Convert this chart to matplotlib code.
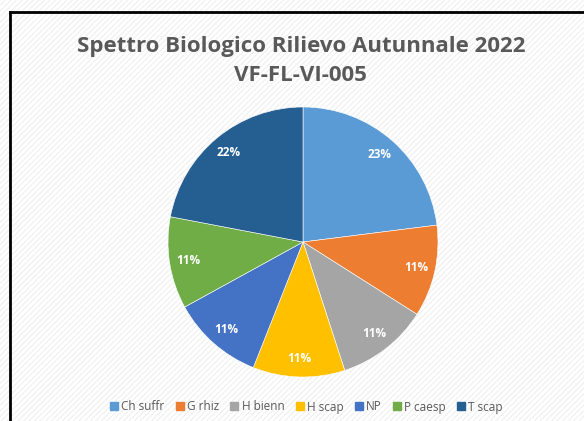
import matplotlib.pyplot as plt
from matplotlib.patches import Rectangle
from matplotlib.lines import Line2D

# biological spectrum, autumn survey
categories = ["Ch suffr", "G rhiz", "H bienn", "H scap", "NP", "P caesp", "T scap"]
shares = [23, 11, 11, 11, 11, 11, 22]
colors = ["#5B9BD5", "#ED7D31", "#A5A5A5", "#FFC000", "#4472C4", "#70AD47", "#255E91"]
title = "Spettro Biologico Rilievo Autunnale 2022\nVF-FL-VI-005"

W, H = 584, 421
fig = plt.figure(figsize=(W / 100, H / 100), dpi=100)
fig.patch.set_facecolor("white")

# faint diagonal texture and the chart frame
plt.rcParams["hatch.linewidth"] = 0.6
fig.patches.append(Rectangle((0, 0), 1, 1, transform=fig.transFigure, facecolor="white",
                             edgecolor="#ebebeb", hatch="//////", linewidth=0, zorder=-2))
x0, y0 = 10 / W, 1 - 12 / H
fig.add_artist(Line2D([x0, x0], [0, y0], transform=fig.transFigure, color="black", lw=2))
fig.add_artist(Line2D([x0, 1], [y0, y0], transform=fig.transFigure, color="black", lw=2))

fig.text(0.515, 1 - 61 / H, title, ha="center", va="center", fontsize=16,
         fontweight="bold", family="Open Sans", color="#595959", linespacing=1.55)

cx, cy, r = 303, 242, 135
ax = fig.add_axes([(cx - r) / W, (H - cy - r) / H, 2 * r / W, 2 * r / H])
wedges, _, autotexts = ax.pie(shares, colors=colors, startangle=90, counterclock=False,
                              autopct=lambda p: f"{p:.0f}%", pctdistance=0.86,
                              wedgeprops=dict(edgecolor="white", linewidth=0.4))
for t in autotexts:
    t.set_color("white")
    t.set_fontsize(8.5)
    t.set_fontweight("bold")
    t.set_family("Open Sans")
ax.set_xlim(-1, 1)
ax.set_ylim(-1, 1)
ax.set_aspect("equal")
ax.axis("off")

handles = [Line2D([], [], marker="s", linestyle="", markersize=6, markerfacecolor=c,
                  markeredgecolor=c) for c in colors]
fig.legend(handles, categories, loc="center", bbox_to_anchor=(0.525, 1 - 407 / H), ncol=7,
           frameon=False, handlelength=0.6, handletextpad=0.3, columnspacing=1.0,
           prop={"family": "Open Sans", "size": 8.5}, labelcolor="#595959")

fig.savefig("out.png", dpi=100)
